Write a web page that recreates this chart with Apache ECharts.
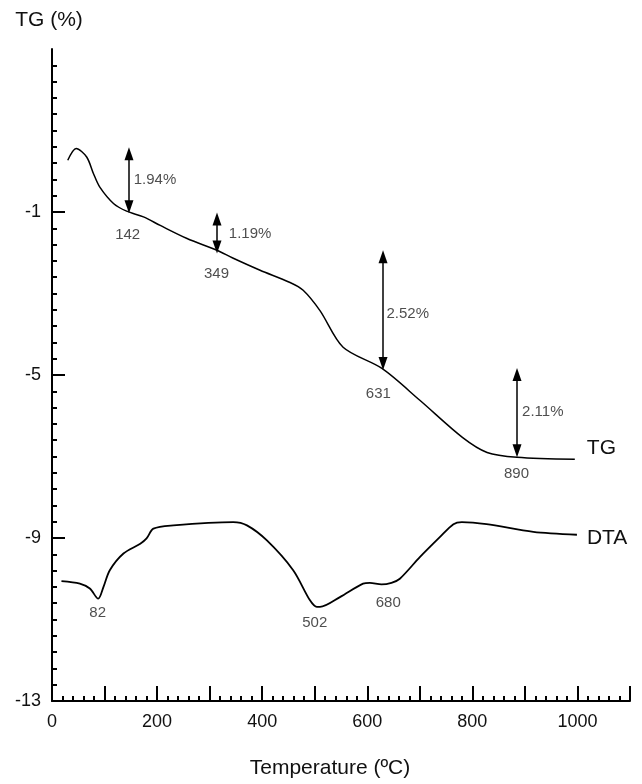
<!DOCTYPE html>
<html><head><meta charset="utf-8">
<script src="https://cdn.jsdelivr.net/npm/echarts@6/dist/echarts.min.js"></script>
<style>html,body{margin:0;padding:0;background:#fff}#c{width:642px;height:784px}</style>
</head><body><div id="c"></div>
<script>
// TG curve (temperature in °C, mass change in %)
const tgTemp = [30, 46, 66, 79, 91, 117, 142, 174, 206, 257, 314, 344, 396, 453, 478, 510, 554, 628, 700, 781, 828, 885, 995];
const tgMass = [0.27, 0.56, 0.35, -0.06, -0.39, -0.79, -0.98, -1.12, -1.33, -1.65, -1.94, -2.13, -2.43, -2.73, -2.92, -3.42, -4.32, -4.84, -5.62, -6.53, -6.90, -7.02, -7.07];
// DTA curve (plotted on the same axis)
const dtaTemp = [18, 53, 72, 88, 98, 110, 136, 168, 180, 193, 231, 345, 371, 409, 459, 491, 504, 510, 548, 592, 605, 627, 646, 662, 700, 738, 764, 780, 827, 916, 999];
const dtaSignal = [-10.06, -10.12, -10.24, -10.49, -10.20, -9.79, -9.38, -9.14, -9.01, -8.77, -8.69, -8.61, -8.69, -9.06, -9.79, -10.53, -10.69, -10.69, -10.45, -10.12, -10.10, -10.14, -10.10, -10.00, -9.47, -8.98, -8.66, -8.61, -8.66, -8.85, -8.92];
// peak temperature annotations
const peakLabels = ['142', '349', '631', '890', '82', '502', '680'];
const peakTemp = [144, 313, 621, 884, 87, 500, 640];
const peakValue = [-1.56, -2.52, -5.46, -7.42, -10.84, -11.08, -10.60];
// mass-loss annotations
const lossLabels = ['1.94%', '1.19%', '2.52%', '2.11%'];
const lossTextTemp = [196, 377, 677, 934];
const lossTextValue = [-0.22, -1.54, -3.50, -5.90];
const arrowTemp = [146.5, 314, 630, 885];
const arrowTop = [0.43, -1.17, -2.10, -4.99];
const arrowBottom = [-0.87, -1.86, -4.72, -6.86];
// tick labels
const xTickLabels = [0, 200, 400, 600, 800, 1000];
const yTickLabels = [-13, -9, -5, -1];

const FONT = "'Liberation Sans', Arial, Helvetica, sans-serif";
const chart = echarts.init(document.getElementById('c'), null, {renderer: 'canvas'});

const textData = peakLabels.map((t, i) => ({name: t, value: [peakTemp[i], peakValue[i]]}))
  .concat(lossLabels.map((t, i) => ({name: t, value: [lossTextTemp[i], lossTextValue[i]]})));

chart.setOption({
  animation: false,
  backgroundColor: '#fff',
  textStyle: {fontFamily: FONT},
  grid: {left: 52, right: 12, top: 49, bottom: 83, containLabel: false, outerBoundsMode: 'none'},
  xAxis: {
    type: 'value', min: 0, max: 1100, interval: 100,
    name: 'Temperature (ºC)', nameLocation: 'middle', nameGap: 57,
    nameTextStyle: {fontSize: 21, color: '#111', fontFamily: FONT, padding: [0, 22, 0, 0]},
    axisLine: {show: true, onZero: false, lineStyle: {color: '#000', width: 2}},
    axisTick: {show: true, inside: true, length: 15, lineStyle: {color: '#000', width: 2}},
    minorTick: {show: true, splitNumber: 5, length: 5, lineStyle: {color: '#000', width: 2}},
    splitLine: {show: false}, minorSplitLine: {show: false},
    axisLabel: {
      fontSize: 18, color: '#111', fontFamily: FONT, margin: 12,
      formatter: v => xTickLabels.includes(v) ? String(v) : ''
    }
  },
  yAxis: {
    type: 'value', min: -13, max: 3, interval: 4,
    name: 'TG (%)', nameLocation: 'end', nameGap: 18,
    nameTextStyle: {fontSize: 21, color: '#111', fontFamily: FONT, padding: [0, 6, 0, 0]},
    axisLine: {show: true, onZero: false, lineStyle: {color: '#000', width: 2}},
    axisTick: {show: true, inside: true, length: 13, customValues: yTickLabels, lineStyle: {color: '#000', width: 2}},
    minorTick: {show: true, splitNumber: 10, length: 5, lineStyle: {color: '#000', width: 2}},
    splitLine: {show: false}, minorSplitLine: {show: false},
    axisLabel: {
      fontSize: 18, color: '#111', fontFamily: FONT, margin: 11,
      customValues: yTickLabels,
      formatter: v => yTickLabels.includes(v) ? String(v) : ''
    }
  },
  series: [
    {
      name: 'TG', type: 'line', smooth: 0.3, showSymbol: false, silent: true,
      data: tgTemp.map((t, i) => [t, tgMass[i]]),
      lineStyle: {color: '#000', width: 1.5},
      endLabel: {show: true, formatter: 'TG', fontSize: 21, color: '#111', fontFamily: FONT, distance: 12, offset: [0, -11]}
    },
    {
      name: 'DTA', type: 'line', smooth: 0.3, showSymbol: false, silent: true,
      data: dtaTemp.map((t, i) => [t, dtaSignal[i]]),
      lineStyle: {color: '#000', width: 1.8},
      endLabel: {show: true, formatter: 'DTA', fontSize: 21, color: '#111', fontFamily: FONT, distance: 10, offset: [0, 3]}
    },
    {
      name: 'notes', type: 'scatter', symbolSize: 0, silent: true,
      data: textData,
      label: {show: true, position: 'inside', formatter: p => p.name, fontSize: 15, color: '#222', fontFamily: FONT},
      markLine: {
        silent: true, animation: false,
        symbol: ['triangle', 'triangle'], symbolSize: [9, 13],
        lineStyle: {color: '#000', width: 1.5, type: 'solid'},
        label: {show: false},
        data: arrowTemp.map((x, i) => [{coord: [x, arrowTop[i]]}, {coord: [x, arrowBottom[i]]}])
      }
    }
  ]
});
</script>
</body></html>
